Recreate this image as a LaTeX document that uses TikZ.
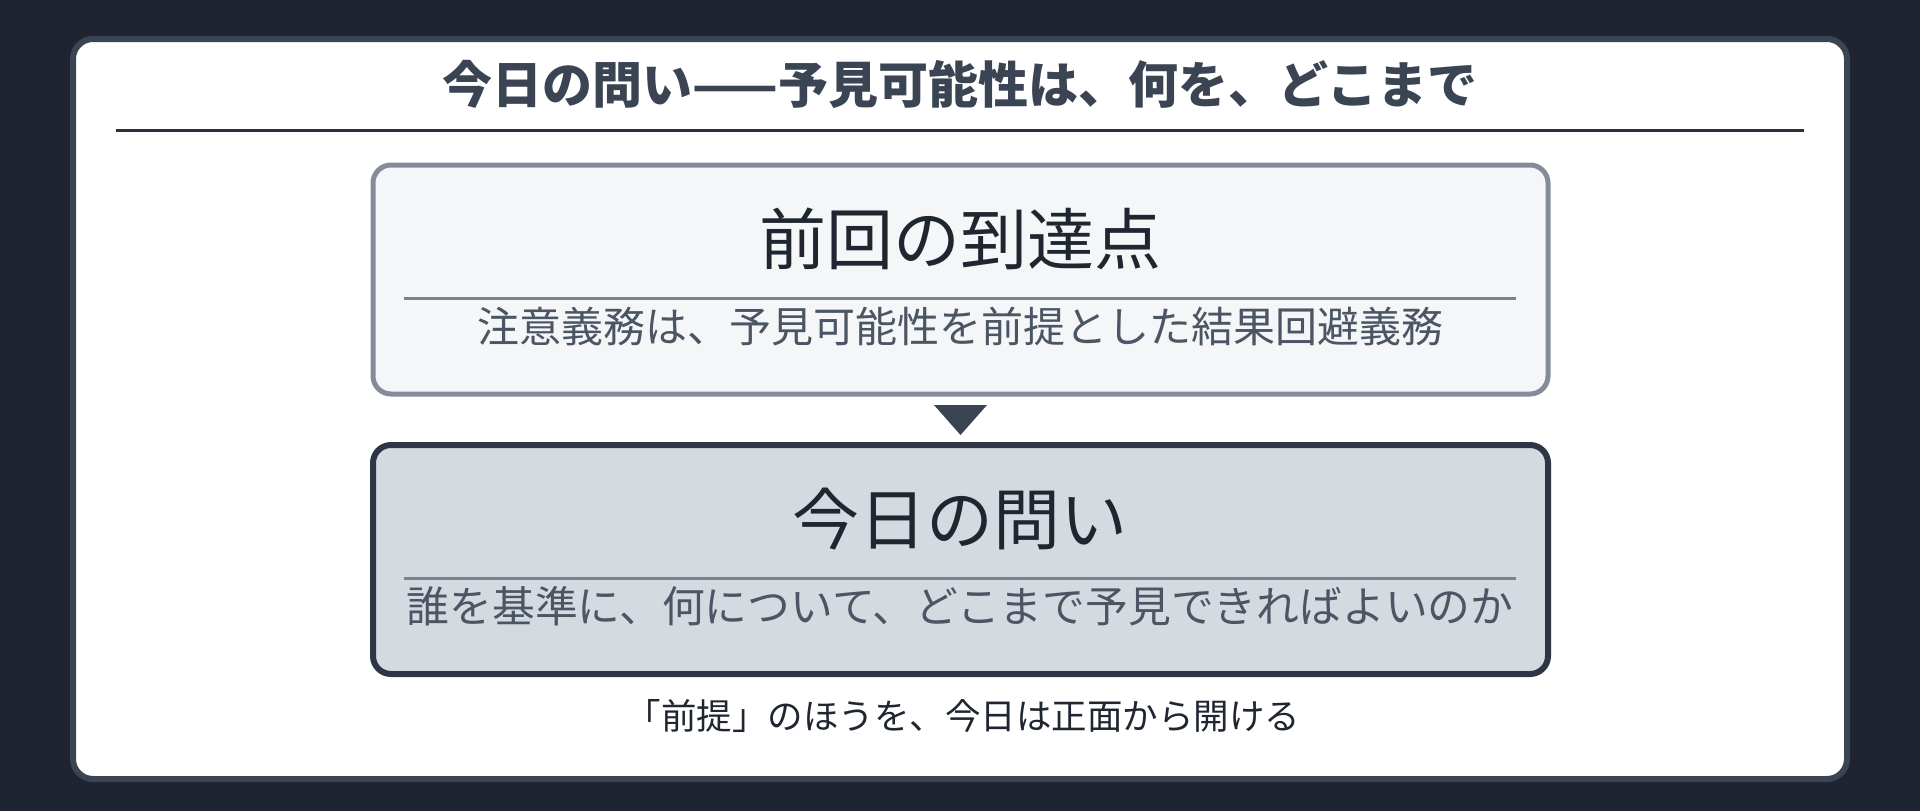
\documentclass[tikz,border=0pt]{standalone}
\usepackage{fontspec}
\setmainfont{Noto Sans CJK JP}
\usepackage{xcolor}
\usepackage{tikz}
\usetikzlibrary{positioning}

\definecolor{bgdark}{HTML}{1E2530}
\definecolor{panelborder}{HTML}{3A4452}
\definecolor{titleink}{HTML}{3A4452}
\definecolor{ruledark}{HTML}{2B313C}
\definecolor{cardgray}{HTML}{848C99}
\definecolor{cardlight}{HTML}{F4F6F8}
\definecolor{carddark}{HTML}{2E3644}
\definecolor{cardmid}{HTML}{D5DAE1}
\definecolor{rulegray}{HTML}{7B8391}
\definecolor{inkdark}{HTML}{1F2630}
\definecolor{inksub}{HTML}{4B5563}

\begin{document}
\begin{tikzpicture}[x=1pt,y=-1pt,
  card/.style={rounded corners=18pt,line width=5pt},
  cardhead/.style={font=\fontsize{67}{70}\selectfont,text=inkdark},
  cardsub/.style={font=\fontsize{42}{46}\selectfont,text=inksub},
  cardrule/.style={line width=3pt,draw=rulegray}]
\useasboundingbox (0,0) rectangle (1920,811);
\fill[bgdark] (0,0) rectangle (1920,811);
\draw[draw=panelborder,fill=white,line width=6pt,rounded corners=20pt] (73,39) rectangle (1847,779);
\node[font=\bfseries\fontsize{50}{54}\selectfont,text=titleink] (title) at (960,84) {今日の問い——予見可能性は、何を、どこまで};
\draw[line width=3pt,color=ruledark] (116,130) to (1804,130);
% previous result
\draw[card,draw=cardgray,fill=cardlight] (373,165) rectangle (1548,394);
\node[cardhead] (prevhead) at (960,239) {前回の到達点};
\draw[cardrule] (404,298) to (1516,298);
\node[cardsub] (prevsub) at (960,326) {注意義務は、予見可能性を前提とした結果回避義務};
% down marker
\fill[titleink] (934,405) -- (987,405) -- (960.5,435) -- cycle;
% today's question
\draw[card,draw=carddark,fill=cardmid,line width=6pt] (373,445) rectangle (1548,674);
\node[cardhead] (todayhead) at (960,519) {今日の問い};
\draw[cardrule] (404,578) to (1516,578);
\node[cardsub,font=\fontsize{42.8}{47}\selectfont] (todaysub) at (960,606) {誰を基準に、何について、どこまで予見できればよいのか};
\node[font=\fontsize{35.5}{38}\selectfont,text=inkdark] (footer) at (963,716) {「前提」のほうを、今日は正面から開ける};
\end{tikzpicture}
\end{document}
